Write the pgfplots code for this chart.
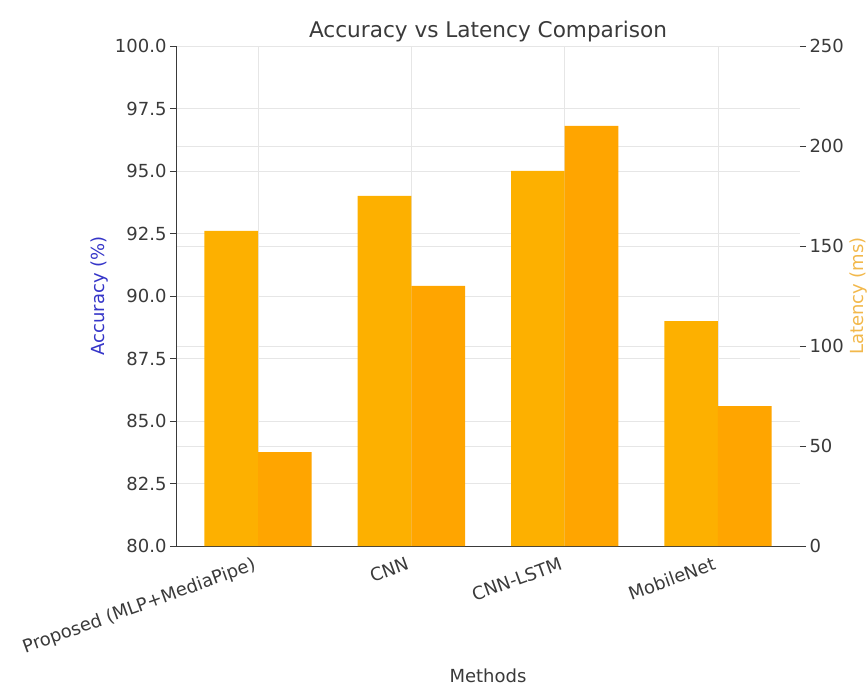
\documentclass[border=0pt]{standalone}
\usepackage{fontspec}
\setmainfont{DejaVu Sans}
\usepackage{pgfplots}
\pgfplotsset{compat=1.18}
\usetikzlibrary{calc}
\definecolor{accbar}{HTML}{FDB000}
\definecolor{latbar}{HTML}{FFA500}
\definecolor{txt}{HTML}{3A3A3A}
\definecolor{gridc}{HTML}{E6E6E6}
\definecolor{acclab}{HTML}{3535C8}
\definecolor{latlab}{HTML}{F2B84B}
\begin{document}
\begin{tikzpicture}[font=\fontsize{18}{21}\selectfont]
\pgfplotsset{
 every axis/.append style={
  set layers,
  scale only axis, width=624pt, height=500pt,
  xmin=-0.535, xmax=3.535,
  /pgf/number format/assume math mode=true,
  tick label style={font=\fontsize{18}{21}\selectfont, text=txt},
  tick style={txt, line width=0.8pt},
  major tick length=6pt,
  tick align=outside,
  grid style={gridc, line width=0.8pt},
 }
}
\begin{axis}[
  ymin=80, ymax=100, ytick={80,82.5,...,100},
  yticklabel style={/pgf/number format/.cd, fixed, fixed zerofill, precision=1},
  xtick={0,1,2,3},
  xticklabels={Proposed (MLP+MediaPipe),CNN,CNN-LSTM,MobileNet},
  xticklabel style={rotate=20, anchor=north east, inner sep=2pt, xshift=-5pt},
  x tick style={draw=none},
  axis x line*=bottom, axis y line*=left,
  axis line style={-, txt, line width=0.9pt},
  grid=major,
  ylabel={Accuracy (\%)},
  ylabel style={at={(axis description cs:-0.122,0.5)}, anchor=center, text=acclab},
  xlabel={Methods},
  xlabel style={at={(axis description cs:0.5,-0.26)}, anchor=center, text=txt},
  title={Accuracy vs Latency Comparison},
  title style={at={(axis description cs:0.5,1.017)}, anchor=center, font=\fontsize{21.6}{25}\selectfont, text=txt},
]
\addplot[ybar, bar width=0.35, bar shift=-0.175, fill=accbar, draw=none]
  coordinates {(0,92.6) (1,94.0) (2,95.0) (3,89.0)};
\coordinate (sw) at (rel axis cs:0,0);
\end{axis}
\begin{axis}[
  ymin=0, ymax=250, ytick={0,50,...,250},
  axis y line*=right, axis x line=none,
  y axis line style={draw=none},
  ymajorgrids,
  ylabel={Latency (ms)},
  ylabel style={at={(axis description cs:1.093,0.5)}, anchor=center, rotate=0, text=latlab},
]
\addplot[ybar, bar width=0.35, bar shift=0.175, fill=latbar, draw=none]
  coordinates {(0,47) (1,130) (2,210) (3,70)};
\end{axis}
\pgfresetboundingbox
\path[use as bounding box] ($(sw)+(-176pt,-140pt)$) rectangle ($(sw)+(691pt,546pt)$);
\end{tikzpicture}
\end{document}
